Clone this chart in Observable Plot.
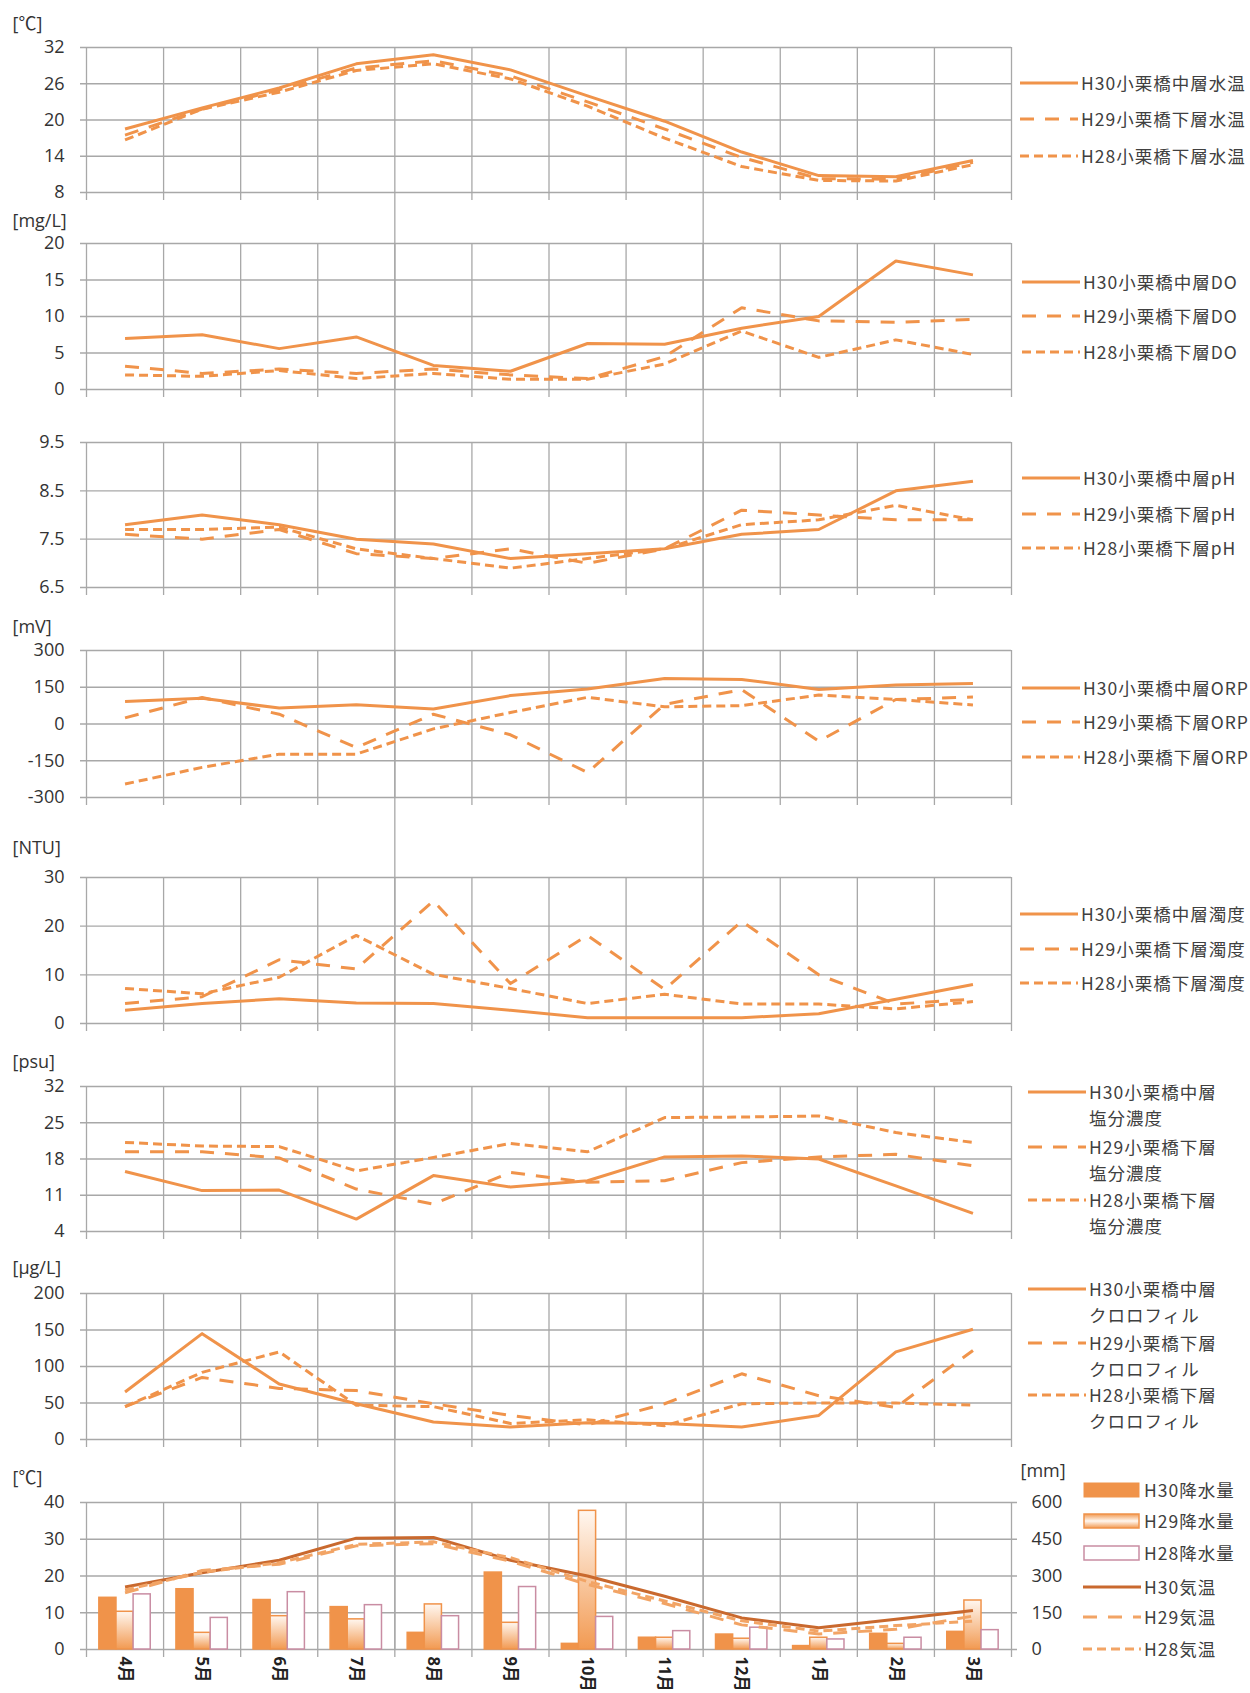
<!DOCTYPE html>
<html><head><meta charset="utf-8">
<script src="https://cdn.jsdelivr.net/npm/d3@7"></script>
<script src="https://cdn.jsdelivr.net/npm/@observablehq/plot@0.6"></script>
<style>
body{margin:0;background:#fff;}
#root{position:relative;width:1250px;height:1693px;overflow:hidden;background:#fff;font-family:"Open Sans","Noto Sans CJK JP",sans-serif;}
.panel{position:absolute;left:0;}
.lg{position:absolute;display:flex;align-items:flex-start;color:#404040;font-family:"Noto Sans CJK JP",sans-serif;font-size:17.5px;line-height:26px;letter-spacing:1px;white-space:pre;}
.lg svg{flex:none;margin-right:3px;}
</style></head><body><div id="root"></div>
<script>
// ---------- data ----------
const months = ["4月","5月","6月","7月","8月","9月","10月","11月","12月","1月","2月","3月"];

const waterTempH30 = [18.5, 22.0, 25.3, 29.3, 30.8, 28.3, 24.0, 19.8, 14.7, 10.8, 10.6, 13.3];
const waterTempH29 = [17.5, 21.8, 25.0, 28.6, 29.8, 27.3, 23.0, 18.5, 13.8, 10.3, 10.2, 13.0];
const waterTempH28 = [16.7, 21.8, 24.6, 28.2, 29.3, 26.8, 22.3, 17.0, 12.3, 10.0, 9.9, 12.6];

const doH30 = [7.0, 7.5, 5.6, 7.2, 3.3, 2.5, 6.3, 6.2, 8.4, 10.0, 17.6, 15.7];
const doH29 = [3.2, 2.2, 2.8, 2.2, 2.8, 2.0, 1.5, 4.5, 11.2, 9.4, 9.2, 9.6];
const doH28 = [2.0, 1.8, 2.6, 1.5, 2.2, 1.4, 1.4, 3.5, 8.0, 4.4, 6.8, 4.8];

const phH30 = [7.8, 8.0, 7.8, 7.5, 7.4, 7.1, 7.2, 7.3, 7.6, 7.7, 8.5, 8.7];
const phH29 = [7.6, 7.5, 7.7, 7.2, 7.1, 7.3, 7.0, 7.3, 8.1, 8.0, 7.9, 7.9];
const phH28 = [7.7, 7.7, 7.75, 7.3, 7.1, 6.9, 7.1, 7.3, 7.8, 7.9, 8.2, 7.9];

const orpH30 = [92, 105, 65, 79, 61, 116, 143, 186, 182, 141, 159, 165];
const orpH29 = [25, 108, 40, -96, 40, -44, -198, 80, 140, -70, 100, 110];
const orpH28 = [-245, -177, -123, -123, -20, 47, 109, 70, 75, 118, 100, 78];

const turbH30 = [2.7, 4.1, 5.1, 4.2, 4.1, 2.7, 1.2, 1.2, 1.2, 2.0, 5.0, 8.0];
const turbH29 = [4.1, 5.5, 13.1, 11.2, 25.2, 8.2, 18.1, 7.0, 21.0, 10.0, 4.0, 5.0];
const turbH28 = [7.2, 6.1, 9.5, 18.1, 10.1, 7.2, 4.1, 6.0, 4.0, 4.0, 3.0, 4.5];

const salH30 = [15.6, 11.9, 12.0, 6.4, 14.8, 12.6, 13.8, 18.4, 18.6, 18.0, 12.8, 7.5];
const salH29 = [19.4, 19.4, 18.2, 12.2, 9.3, 15.4, 13.5, 13.8, 17.3, 18.4, 18.9, 16.7];
const salH28 = [21.2, 20.5, 20.4, 15.7, 18.3, 21.0, 19.4, 26.0, 26.1, 26.3, 23.1, 21.2];

const chlH30 = [65, 145, 76, 49, 24, 17, 23, 22, 17, 33, 120, 151];
const chlH29 = [45, 85, 70, 67, 49, 33, 20, 49, 90, 60, 44, 122];
const chlH28 = [45, 92, 120, 47, 45, 22, 27, 19, 49, 50, 50, 47];

const rainH30 = [211, 246, 202, 173, 68, 314, 23, 48, 61, 14, 64, 72];
const rainH29 = [154, 68, 136, 123, 184, 109, 566, 48, 44, 48, 23, 200];
const rainH28 = [225, 129, 234, 181, 136, 255, 133, 75, 89, 41, 48, 79];

const airH30 = [17.0, 20.9, 24.3, 30.3, 30.5, 24.3, 20.0, 14.5, 8.6, 5.9, 8.2, 10.6];
const airH29 = [15.4, 21.5, 23.2, 28.2, 28.8, 24.0, 17.7, 12.5, 6.7, 4.2, 5.5, 9.1];
const airH28 = [16.2, 21.0, 23.6, 28.6, 29.3, 25.0, 18.5, 13.2, 7.8, 5.0, 6.5, 7.7];

const tempTicks = [8, 14, 20, 26, 32];
const doTicks = [0, 5, 10, 15, 20];
const phTicks = [6.5, 7.5, 8.5, 9.5];
const orpTicks = [-300, -150, 0, 150, 300];
const turbTicks = [0, 10, 20, 30];
const salTicks = [4, 11, 18, 25, 32];
const chlTicks = [0, 50, 100, 150, 200];
const airTicks = [0, 10, 20, 30, 40];
const rainTicks = [0, 150, 300, 450, 600];

// ---------- styles ----------
const ORANGE = "#F0934A";
const AIR30 = "#C9692E";
const AIRDASH = "#F2A465";
const GRID = "#A8A8A8";
const H28BAR = "#C98DA3";
const DASH29 = "14,11";
const DASH28 = "9,5";
const TICKFONT = "'Open Sans','Noto Sans CJK JP',sans-serif";
const TICKSIZE = 18;

const root = document.getElementById("root");
const names = (suffix) => [`H30小栗橋中層${suffix}`, `H29小栗橋下層${suffix}`, `H28小栗橋下層${suffix}`];

const panels = [
  {top: 0, height: 200, mt: 47, domain: [8, 32], ticks: tempTicks, unit: "[℃]", unitY: 24, series: [waterTempH30, waterTempH29, waterTempH28], labels: names("水温"), lx: 1020, ly: [83, 119, 156], first: true},
  {top: 200, height: 197, mt: 43, domain: [0, 20], ticks: doTicks, unit: "[mg/L]", unitY: 221, series: [doH30, doH29, doH28], labels: names("DO"), lx: 1022, ly: [282, 316, 352]},
  {top: 397, height: 198, mt: 45, domain: [6.5, 9.5], ticks: phTicks, fmt: d3.format(".1f"), unit: null, series: [phH30, phH29, phH28], labels: names("pH"), lx: 1022, ly: [478, 514, 548]},
  {top: 595, height: 210, mt: 55, domain: [-300, 300], ticks: orpTicks, unit: "[mV]", unitY: 627, series: [orpH30, orpH29, orpH28], labels: names("ORP"), lx: 1022, ly: [688, 722, 757]},
  {top: 805, height: 226, mt: 72, domain: [0, 30], ticks: turbTicks, unit: "[NTU]", unitY: 848, series: [turbH30, turbH29, turbH28], labels: names("濁度"), lx: 1020, ly: [914, 949, 983]},
  {top: 1031, height: 208, mt: 55, domain: [4, 32], ticks: salTicks, unit: "[psu]", unitY: 1062, series: [salH30, salH29, salH28], labels: names("\n塩分濃度"), lx: 1028, ly: [1092, 1147, 1200]},
  {top: 1239, height: 208, mt: 54, domain: [0, 200], ticks: chlTicks, unit: "[μg/L]", unitY: 1268, series: [chlH30, chlH29, chlH28], labels: names("\nクロロフィル"), lx: 1028, ly: [1289, 1343, 1395]}
];
const dashes = [null, DASH29, DASH28];
const xBounds = d3.range(13);
const mid = (i) => i + 0.5;

function gridMarks(p, extraRight) {
  const m = [
    Plot.ruleY(p.ticks, {stroke: GRID, strokeWidth: 1.3, insetLeft: -6, insetRight: extraRight ? -6 : 0}),
    Plot.ruleX(xBounds, {stroke: GRID, strokeWidth: 1.3, insetBottom: -8})
  ];
  if (!p.first) m.push(Plot.ruleX([4, 8], {stroke: GRID, strokeWidth: 1.3, insetTop: -p.mt}));
  return m;
}

function unitMark(p) {
  if (!p.unit) return null;
  return Plot.text([p.unit], {frameAnchor: "top-left", dx: -74, dy: p.unitY - (p.top + p.mt), textAnchor: "start", lineAnchor: "middle", fontSize: 18, fill: "#333", fontFamily: TICKFONT});
}

function lineMark(values, k, color) {
  return Plot.line(values.map((v, i) => ({x: mid(i), y: v})), {
    x: "x", y: "y", stroke: color, strokeWidth: 3, strokeDasharray: dashes[k], strokeLinejoin: "round", strokeLinecap: "butt"
  });
}

function addPanel(svg, top) {
  const div = document.createElement("div");
  div.className = "panel";
  div.style.top = top + "px";
  div.appendChild(svg);
  root.appendChild(div);
}

function swatchSvg(kind, dash, color) {
  const w = 58, h = 26;
  if (kind === "line") {
    return `<svg width="${w}" height="${h}"><line x1="0" x2="${w}" y1="13" y2="13" stroke="${color}" stroke-width="3" ${dash ? `stroke-dasharray="${dash}"` : ""}/></svg>`;
  }
  return `<svg width="${w}" height="${h}">${kind}</svg>`;
}

function addLegend(x, y, swatch, text) {
  const d = document.createElement("div");
  d.className = "lg";
  d.style.left = x + "px";
  d.style.top = (y - 13) + "px";
  d.innerHTML = swatch + `<span>${text}</span>`;
  root.appendChild(d);
}

for (const p of panels) {
  const svg = Plot.plot({
    width: 1250, height: p.height,
    marginLeft: 86, marginRight: 239, marginTop: p.mt, marginBottom: 8,
    x: {domain: [0, 12], axis: null},
    y: {domain: p.domain, axis: null},
    style: {fontFamily: TICKFONT, fontSize: TICKSIZE + "px", color: "#333", background: "transparent", overflow: "visible"},
    marks: [
      ...gridMarks(p, false),
      Plot.axisY(p.ticks, {tickSize: 0, tickPadding: 22, fontSize: TICKSIZE, fill: "#333", tickFormat: p.fmt || (d => d), label: null}),
      unitMark(p),
      ...p.series.map((s, k) => lineMark(s, k, ORANGE))
    ]
  });
  addPanel(svg, p.top);
  p.labels.forEach((t, k) => addLegend(p.lx, p.ly[k], swatchSvg("line", dashes[k], ORANGE), t));
}

// ---------- bottom panel: air temperature & precipitation ----------
const bp = {top: 1447, height: 246, mt: 55, domain: [0, 40], ticks: airTicks, unit: "[℃]", unitY: 1478};
const mmPerDeg = 600 / 40;
const barSeries = [
  {values: rainH30, fill: ORANGE, stroke: ORANGE},
  {values: rainH29, fill: "url(#g29)", stroke: ORANGE},
  {values: rainH28, fill: "#ffffff", stroke: H28BAR}
];
const barData = barSeries.flatMap((s, k) => s.values.map((v, i) => ({
  x1: i + 1 / 6 + k * 2 / 9, x2: i + 1 / 6 + (k + 1) * 2 / 9, y: v / mmPerDeg, k
})));
const gradDefs = () => {
  const defs = d3.create("svg:defs");
  const g = defs.append("linearGradient").attr("id", "g29").attr("x1", 0).attr("y1", 0).attr("x2", 0).attr("y2", 1);
  g.append("stop").attr("offset", "0%").attr("stop-color", "#FFF7F0");
  g.append("stop").attr("offset", "100%").attr("stop-color", "#F29A52");
  return defs.node();
};
const svg8 = Plot.plot({
  width: 1250, height: bp.height,
  marginLeft: 86, marginRight: 239, marginTop: bp.mt, marginBottom: 44,
  x: {domain: [0, 12], axis: null},
  y: {domain: bp.domain, axis: null},
  style: {fontFamily: TICKFONT, fontSize: TICKSIZE + "px", color: "#333", background: "transparent", overflow: "visible"},
  marks: [
    gradDefs,
    ...gridMarks(bp, true),
    Plot.axisY(airTicks, {tickSize: 0, tickPadding: 22, fontSize: TICKSIZE, fill: "#333", label: null}),
    Plot.axisY(rainTicks.map(v => v / mmPerDeg), {anchor: "right", tickSize: 0, tickPadding: 20, fontSize: TICKSIZE, fill: "#333", tickFormat: d => Math.round(d * mmPerDeg), label: null}),
    Plot.axisX(months.map((m, i) => mid(i)), {tickSize: 0, tickPadding: 7, tickRotate: 90, fontSize: 16.5, fontWeight: "bold", fill: "#222", tickFormat: d => months[Math.floor(d)], label: null}),
    unitMark(bp),
    Plot.text(["[mm]"], {frameAnchor: "top-right", dx: 9, dy: -31, textAnchor: "start", lineAnchor: "middle", fontSize: 18, fill: "#333", fontFamily: TICKFONT}),
    ...barSeries.map((s, k) => Plot.rectY(barData.filter(d => d.k === k), {x1: "x1", x2: "x2", y1: 0, y2: "y", fill: s.fill, stroke: s.stroke, strokeWidth: 1.5})),
    lineMark(airH30, 0, AIR30),
    lineMark(airH29, 1, AIRDASH),
    lineMark(airH28, 2, AIRDASH)
  ]
});
addPanel(svg8, bp.top);

const barSw = [
  `<rect x="1" y="6" width="55" height="14" fill="${ORANGE}" stroke="${ORANGE}"/>`,
  `<defs><linearGradient id="lg29" x1="0" y1="0" x2="0" y2="1"><stop offset="0%" stop-color="#F29A52"/><stop offset="50%" stop-color="#FFF7F0"/><stop offset="100%" stop-color="#F29A52"/></linearGradient></defs><rect x="1" y="6" width="55" height="14" fill="url(#lg29)" stroke="${ORANGE}" stroke-width="1.5"/>`,
  `<rect x="1" y="6" width="55" height="14" fill="#fff" stroke="${H28BAR}" stroke-width="1.5"/>`
];
const lg8 = ["H30降水量", "H29降水量", "H28降水量", "H30気温", "H29気温", "H28気温"];
const ly8 = [1490, 1521, 1553, 1587, 1617, 1649];
lg8.forEach((t, k) => {
  const sw = k < 3 ? swatchSvg(barSw[k]) : swatchSvg("line", dashes[k - 3], k === 3 ? AIR30 : AIRDASH);
  addLegend(1083, ly8[k], sw, t);
});
</script></body></html>
